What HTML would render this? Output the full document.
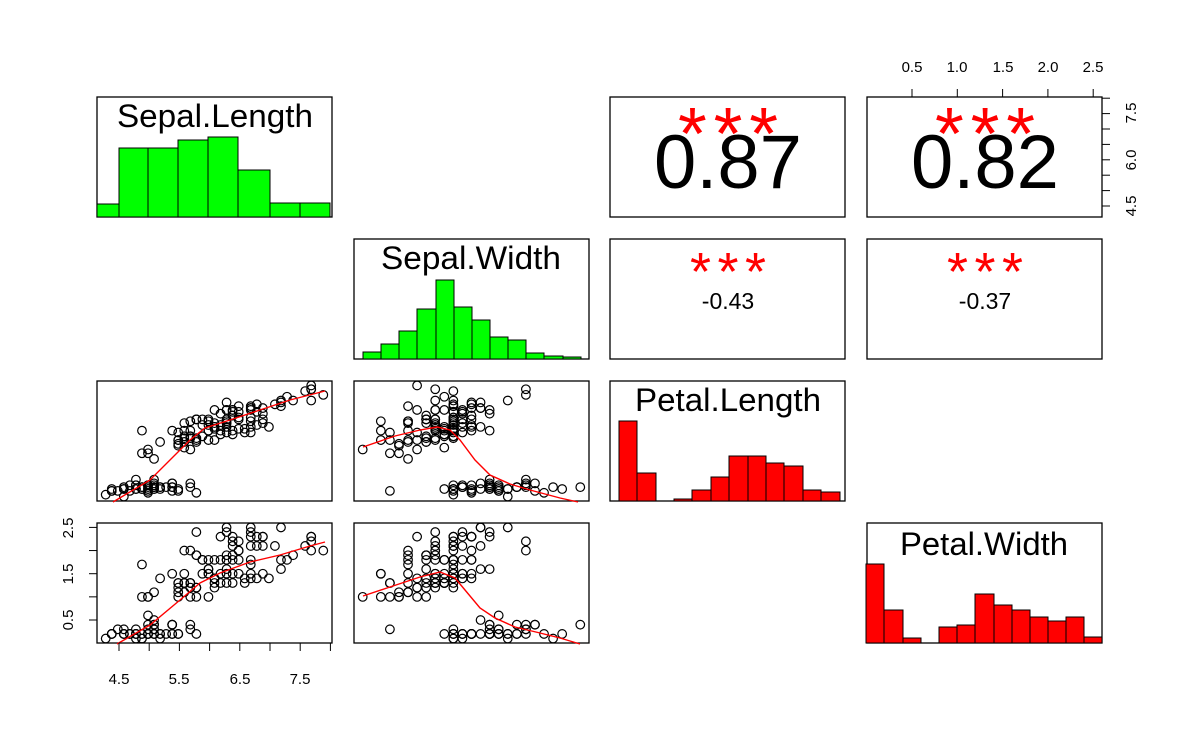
<!DOCTYPE html>
<html><head><meta charset="utf-8"><style>
html,body{margin:0;padding:0;background:#fff;}
svg text{font-family:"Liberation Sans",sans-serif;}
</style></head><body>
<svg id="s" width="1200" height="742" viewBox="0 0 1200 742" xmlns="http://www.w3.org/2000/svg">
<g fill="none" stroke="#000" stroke-width="1.3">
<rect x="97" y="97" width="235" height="120"/>
<rect x="610" y="97" width="235" height="120"/>
<rect x="867" y="97" width="235" height="120"/>
<rect x="354" y="239" width="235" height="120"/>
<rect x="610" y="239" width="235" height="120"/>
<rect x="867" y="239" width="235" height="120"/>
<rect x="97" y="381" width="235" height="120"/>
<rect x="354" y="381" width="235" height="120"/>
<rect x="610" y="381" width="235" height="120"/>
<rect x="97" y="523" width="235" height="120"/>
<rect x="354" y="523" width="235" height="120"/>
<rect x="867" y="523" width="235" height="120"/>
</g>
<g id="hist" stroke="#000" stroke-width="1"></g>
<g id="pts" fill="none" stroke="#000" stroke-width="1.2"></g>
<g fill="none" stroke="#f00" stroke-width="1.4">
<polyline points="113,502 150,480 175,455 190,440 205,428 230,420 260,410 290,400 325,391"/>
<polyline points="363,447 395,436 420,430 437,427 450,430 460,440 475,460 490,475 510,484 530,490 560,498 578,502"/>
<polyline points="117,644 150,625 180,600 200,583 220,573 250,562 280,555 310,546 325,542"/>
<polyline points="363,596 390,587 420,577 440,572 455,578 465,590 480,608 495,618 515,627 540,633 560,638 580,644"/>
</g>
<g id="axes" stroke="#000" stroke-width="1" fill="none"></g>
<g font-size="15" fill="#000">
<text x="119" y="684" text-anchor="middle">4.5</text>
<text x="179" y="684" text-anchor="middle">5.5</text>
<text x="240" y="684" text-anchor="middle">6.5</text>
<text x="300" y="684" text-anchor="middle">7.5</text>
<text x="912" y="72" text-anchor="middle">0.5</text>
<text x="957" y="72" text-anchor="middle">1.0</text>
<text x="1003" y="72" text-anchor="middle">1.5</text>
<text x="1048" y="72" text-anchor="middle">2.0</text>
<text x="1093" y="72" text-anchor="middle">2.5</text>
<text transform="translate(73,620) rotate(-90)" text-anchor="middle">0.5</text>
<text transform="translate(73,574) rotate(-90)" text-anchor="middle">1.5</text>
<text transform="translate(73,528) rotate(-90)" text-anchor="middle">2.5</text>
<text transform="translate(1136,206) rotate(-90)" text-anchor="middle">4.5</text>
<text transform="translate(1136,160) rotate(-90)" text-anchor="middle">6.0</text>
<text transform="translate(1136,113) rotate(-90)" text-anchor="middle">7.5</text>
</g>
<g font-size="32" text-anchor="middle" fill="#000" textLength="196">
<text x="215" y="127" textLength="196" lengthAdjust="spacingAndGlyphs">Sepal.Length</text>
<text x="471" y="269" textLength="180" lengthAdjust="spacingAndGlyphs">Sepal.Width</text>
<text x="728" y="411" textLength="186" lengthAdjust="spacingAndGlyphs">Petal.Length</text>
<text x="984" y="555" textLength="168" lengthAdjust="spacingAndGlyphs">Petal.Width</text>
</g>
<g text-anchor="middle">
<text x="728" y="188" font-size="76">0.87</text>
<text x="985" y="188" font-size="76">0.82</text>
<text x="728" y="159" font-size="74" fill="#f00" textLength="100" lengthAdjust="spacing">***</text>
<text x="985" y="159" font-size="74" fill="#f00" textLength="100" lengthAdjust="spacing">***</text>
<text x="728" y="290" font-size="54" fill="#f00" textLength="76" lengthAdjust="spacing">***</text>
<text x="985" y="290" font-size="54" fill="#f00" textLength="76" lengthAdjust="spacing">***</text>
<text x="728" y="309" font-size="23">-0.43</text>
<text x="985" y="309" font-size="23">-0.37</text>
</g>
</svg>
<script>
var d="5.1,3.5,1.4,0.2;4.9,3.0,1.4,0.2;4.7,3.2,1.3,0.2;4.6,3.1,1.5,0.2;5.0,3.6,1.4,0.2;5.4,3.9,1.7,0.4;4.6,3.4,1.4,0.3;5.0,3.4,1.5,0.2;4.4,2.9,1.4,0.2;4.9,3.1,1.5,0.1;5.4,3.7,1.5,0.2;4.8,3.4,1.6,0.2;4.8,3.0,1.4,0.1;4.3,3.0,1.1,0.1;5.8,4.0,1.2,0.2;5.7,4.4,1.5,0.4;5.4,3.9,1.3,0.4;5.1,3.5,1.4,0.3;5.7,3.8,1.7,0.3;5.1,3.8,1.5,0.3;5.4,3.4,1.7,0.2;5.1,3.7,1.5,0.4;4.6,3.6,1.0,0.2;5.1,3.3,1.7,0.5;4.8,3.4,1.9,0.2;5.0,3.0,1.6,0.2;5.0,3.4,1.6,0.4;5.2,3.5,1.5,0.2;5.2,3.4,1.4,0.2;4.7,3.2,1.6,0.2;4.8,3.1,1.6,0.2;5.4,3.4,1.5,0.4;5.2,4.1,1.5,0.1;5.5,4.2,1.4,0.2;4.9,3.1,1.5,0.2;5.0,3.2,1.2,0.2;5.5,3.5,1.3,0.2;4.9,3.6,1.4,0.1;4.4,3.0,1.3,0.2;5.1,3.4,1.5,0.2;5.0,3.5,1.3,0.3;4.5,2.3,1.3,0.3;4.4,3.2,1.3,0.2;5.0,3.5,1.6,0.6;5.1,3.8,1.9,0.4;4.8,3.0,1.4,0.3;5.1,3.8,1.6,0.2;4.6,3.2,1.4,0.2;5.3,3.7,1.5,0.2;5.0,3.3,1.4,0.2;7.0,3.2,4.7,1.4;6.4,3.2,4.5,1.5;6.9,3.1,4.9,1.5;5.5,2.3,4.0,1.3;6.5,2.8,4.6,1.5;5.7,2.8,4.5,1.3;6.3,3.3,4.7,1.6;4.9,2.4,3.3,1.0;6.6,2.9,4.6,1.3;5.2,2.7,3.9,1.4;5.0,2.0,3.5,1.0;5.9,3.0,4.2,1.5;6.0,2.2,4.0,1.0;6.1,2.9,4.7,1.4;5.6,2.9,3.6,1.3;6.7,3.1,4.4,1.4;5.6,3.0,4.5,1.5;5.8,2.7,4.1,1.0;6.2,2.2,4.5,1.5;5.6,2.5,3.9,1.1;5.9,3.2,4.8,1.8;6.1,2.8,4.0,1.3;6.3,2.5,4.9,1.5;6.1,2.8,4.7,1.2;6.4,2.9,4.3,1.3;6.6,3.0,4.4,1.4;6.8,2.8,4.8,1.4;6.7,3.0,5.0,1.7;6.0,2.9,4.5,1.5;5.7,2.6,3.5,1.0;5.5,2.4,3.8,1.1;5.5,2.4,3.7,1.0;5.8,2.7,3.9,1.2;6.0,2.7,5.1,1.6;5.4,3.0,4.5,1.5;6.0,3.4,4.5,1.6;6.7,3.1,4.7,1.5;6.3,2.3,4.4,1.3;5.6,3.0,4.1,1.3;5.5,2.5,4.0,1.3;5.5,2.6,4.4,1.2;6.1,3.0,4.6,1.4;5.8,2.6,4.0,1.2;5.0,2.3,3.3,1.0;5.6,2.7,4.2,1.3;5.7,3.0,4.2,1.2;5.7,2.9,4.2,1.3;6.2,2.9,4.3,1.3;5.1,2.5,3.0,1.1;5.7,2.8,4.1,1.3;6.3,3.3,6.0,2.5;5.8,2.7,5.1,1.9;7.1,3.0,5.9,2.1;6.3,2.9,5.6,1.8;6.5,3.0,5.8,2.2;7.6,3.0,6.6,2.1;4.9,2.5,4.5,1.7;7.3,2.9,6.3,1.8;6.7,2.5,5.8,1.8;7.2,3.6,6.1,2.5;6.5,3.2,5.1,2.0;6.4,2.7,5.3,1.9;6.8,3.0,5.5,2.1;5.7,2.5,5.0,2.0;5.8,2.8,5.1,2.4;6.4,3.2,5.3,2.3;6.5,3.0,5.5,1.8;7.7,3.8,6.7,2.2;7.7,2.6,6.9,2.3;6.0,2.2,5.0,1.5;6.9,3.2,5.7,2.3;5.6,2.8,4.9,2.0;7.7,2.8,6.7,2.0;6.3,2.7,4.9,1.8;6.7,3.3,5.7,2.1;7.2,3.2,6.0,1.8;6.2,2.8,4.8,1.8;6.1,3.0,4.9,1.8;6.4,2.8,5.6,2.1;7.2,3.0,5.8,1.6;7.4,2.8,6.1,1.9;7.9,3.8,6.4,2.0;6.4,2.8,5.6,2.2;6.3,2.8,5.1,1.5;6.1,2.6,5.6,1.4;7.7,3.0,6.1,2.3;6.3,3.4,5.6,2.4;6.4,3.1,5.5,1.8;6.0,3.0,4.8,1.8;6.9,3.1,5.4,2.1;6.7,3.1,5.6,2.4;6.9,3.1,5.1,2.3;5.8,2.7,5.1,1.9;6.8,3.2,5.9,2.3;6.7,3.3,5.7,2.5;6.7,3.0,5.2,2.3;6.3,2.5,5.0,1.9;6.5,3.0,5.2,2.0;6.2,3.4,5.4,2.3;5.9,3.0,5.1,1.8";
var NS="http://www.w3.org/2000/svg";
function el(g,t,a){var e=document.createElementNS(NS,t);for(var k in a)e.setAttribute(k,a[k]);g.appendChild(e);}
var P=document.getElementById("pts");
var fx=[function(v){return 97+(v-4.156)*60.44},function(v){return 354+(v-1.904)*90.66}];
var fy3=function(v){return 501-(v-0.764)*18.83}, fy4=function(v){return 643-(v-0.004)*46.3};
d.split(";").forEach(function(r){var a=r.split(",").map(Number);
el(P,"circle",{cx:fx[0](a[0]),cy:fy3(a[2]),r:4.3});
el(P,"circle",{cx:fx[1](a[1]),cy:fy3(a[2]),r:4.3});
el(P,"circle",{cx:fx[0](a[0]),cy:fy4(a[3]),r:4.3});
el(P,"circle",{cx:fx[1](a[1]),cy:fy4(a[3]),r:4.3});});
var H=document.getElementById("hist");
function hist(ed,tops,bot,col){for(var i=0;i<tops.length;i++){if(tops[i]>=bot)continue;el(H,"rect",{x:ed[i],y:tops[i],width:ed[i+1]-ed[i],height:bot-tops[i],fill:col});}}
hist([97,119,148,178,208,238,270,300,330],[204,148,148,140,137,170,203,203],217,"#00ff00");
hist([363,381,399,417,436,454,472,490,508,526,544,563,581],[352,344,331,309,280,307,320,337,340,353,356,357],359,"#00ff00");
hist([619,637,656,674,692,711,729,748,766,784,803,821,840],[421,473,501,499,490,477,456,456,463,466,490,492],501,"#ff0000");
hist([866,884,903,921,939,957,975,994,1012,1030,1048,1066,1084,1102],[564,610,638,643,627,625,594,605,610,617,621,617,637],643,"#ff0000");
var A=document.getElementById("axes");
el(A,"line",{x1:119,y1:643,x2:330,y2:643});
for(var i=0;i<8;i++){var x=119+i*30.2;el(A,"line",{x1:x,y1:643,x2:x,y2:651});}
el(A,"line",{x1:912,y1:97,x2:1093,y2:97});
for(var i=0;i<5;i++){var x=912+i*45.3;el(A,"line",{x1:x,y1:97,x2:x,y2:89});}
el(A,"line",{x1:97,y1:528,x2:97,y2:620});
for(var i=0;i<5;i++){var y=620-i*23.15;el(A,"line",{x1:97,y1:y,x2:89,y2:y});}
el(A,"line",{x1:1102,y1:99,x2:1102,y2:206});
for(var i=0;i<8;i++){var y=206-i*15.4;el(A,"line",{x1:1102,y1:y,x2:1110,y2:y});}
</script>
</body></html>
